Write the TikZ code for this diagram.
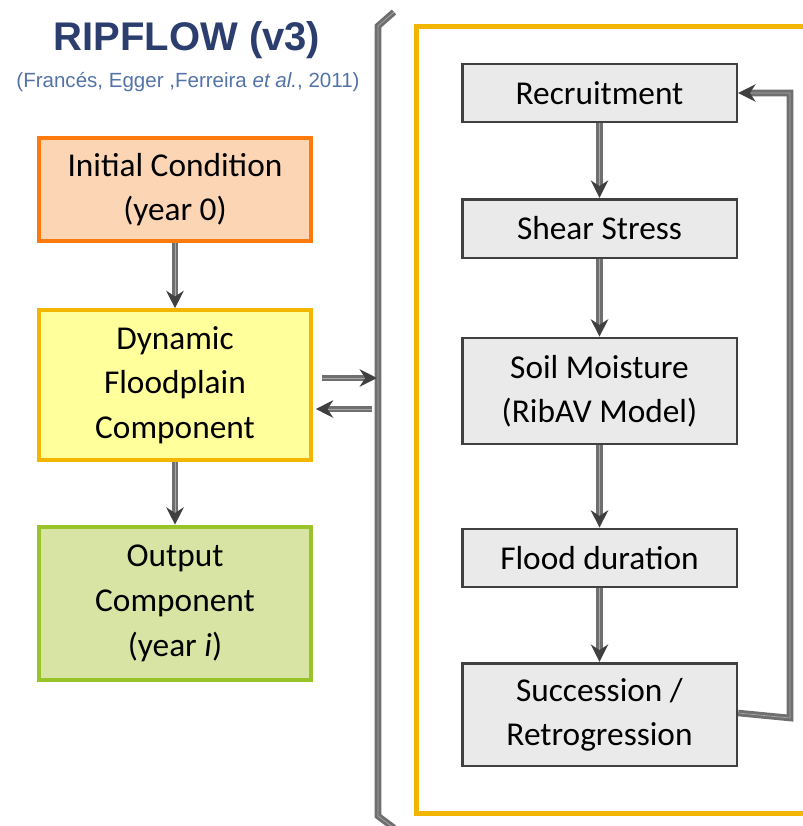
\documentclass[tikz,border=0pt]{standalone}
\usepackage{fontspec}
\setmainfont{Carlito}
\newfontfamily\arialfont{Liberation Sans}
\usetikzlibrary{arrows.meta}
\definecolor{titleblue}{HTML}{2C3E6E}
\definecolor{subblue}{HTML}{5373A8}
\definecolor{peachfill}{HTML}{FCD5B5}
\definecolor{orangeedge}{HTML}{FF7A0E}
\definecolor{yellowfill}{HTML}{FFFF9C}
\definecolor{goldedge}{HTML}{F2B600}
\definecolor{greenfill}{HTML}{D7E4A3}
\definecolor{greenedge}{HTML}{98C42A}
\definecolor{boxgray}{HTML}{EAEAEA}
\definecolor{edgegray}{HTML}{404040}
\definecolor{shaftgray}{HTML}{6F6F6F}
\definecolor{shaftlight}{HTML}{A8A8A8}
\tikzset{
  lbox/.style={draw, line width=3.2pt, minimum width=204pt, align=center,
    font=\fontsize{25}{33.5}\selectfont, inner sep=0pt},
  rbox/.style={draw=edgegray, fill=boxgray, line width=2pt, minimum width=206pt,
    align=center, font=\fontsize{25}{33}\selectfont, inner sep=0pt},
  flowarrow/.style={draw=shaftgray, line width=2.2pt, double=shaftlight, double distance=0.5pt,
    -{Stealth[length=13pt,width=13pt,color=edgegray,fill=edgegray]}},
  bracketline/.style={draw=shaftgray, line width=2.2pt, double=shaftlight, double distance=0.5pt}
}
\begin{document}
\begin{tikzpicture}[x=0.75pt,y=-0.75pt]
\useasboundingbox (0,0) rectangle (803,826);
% title
\node (title) at (187,40) {\arialfont\bfseries\fontsize{30}{30}\selectfont\color{titleblue}RIPFLOW (v3)};
\node (sub) at (188,82) {\arialfont\fontsize{15.4}{15.4}\selectfont\color{subblue}(Francés, Egger ,Ferreira \textit{et al.}, 2011)};
% left boxes
\node[lbox, draw=orangeedge, fill=peachfill, minimum height=77pt] (init) at (175,189.5) {Initial Condition\\(year 0)};
\node[lbox, draw=goldedge, fill=yellowfill, minimum height=112pt] (dyn) at (175,385) {Dynamic\\Floodplain\\Component};
\node[lbox, draw=greenedge, fill=greenfill, minimum height=115pt] (out) at (175,603.5) {Output\\Component\\(year \textit{i})};
\draw[flowarrow] (init) -- (dyn);
\draw[flowarrow] (dyn) -- (out);
% bracket
\coordinate (bt) at (378,26);
\coordinate (bb) at (378,816);
\coordinate (btt) at (394,12);
\coordinate (bbt) at (394,828);
\draw[bracketline] (btt) -- (bt) -- (bb) -- (bbt);
\coordinate (bin) at (377,378);
\coordinate (bout) at (372,409);
\draw[flowarrow] (dyn.east |- bin) ++(9,0) coordinate (dst) (dst) -- (bin);
\draw[flowarrow] (bout) -- ([xshift=2pt]dyn.east |- bout);
% frame
\draw[goldedge, line width=3.75pt] (806,26) -- (416,26) -- (416,813) -- (806,813);
% right boxes
\node[rbox, minimum height=43.5pt] (rec) at (599.5,93) {Recruitment};
\node[rbox, minimum height=44pt] (shear) at (599.5,228.5) {Shear Stress};
\node[rbox, minimum height=79.5pt] (soil) at (599.5,391) {Soil Moisture\\(RibAV Model)};
\node[rbox, minimum height=43.5pt] (flood) at (599.5,558) {Flood duration};
\node[rbox, minimum height=77pt] (succ) at (599.5,714.5) {Succession /\\Retrogression};
\draw[flowarrow] (rec) -- (shear);
\draw[flowarrow] (shear) -- (soil);
\draw[flowarrow] (soil) -- (flood);
\draw[flowarrow] (flood) -- (succ);
\coordinate (fbr) at (790,718);
\coordinate (fbt) at (790,93);
\draw[flowarrow] (succ.east |- 0,713) -- (fbr) -- (fbt) -- (rec.east);
\end{tikzpicture}
\end{document}
